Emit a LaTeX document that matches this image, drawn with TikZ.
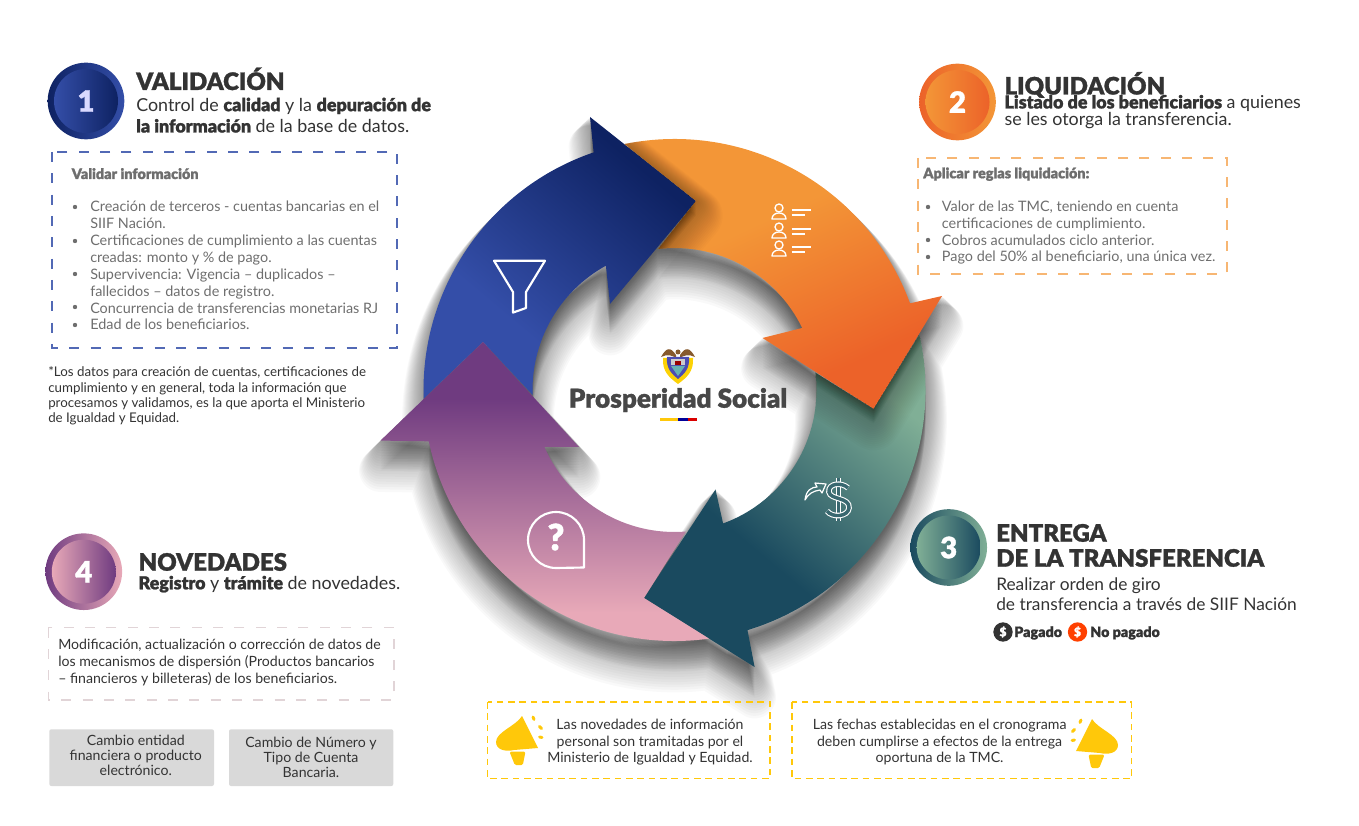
\documentclass[tikz,border=0pt]{standalone}
\usepackage{fontspec}
\setmainfont{Lato}[BoldFont={Lato Black},BoldFeatures={FakeBold=1.2}]

\definecolor{azulA}{HTML}{344EA8}
\definecolor{azulB}{HTML}{0E2262}
\definecolor{naranjaA}{HTML}{F39637}
\definecolor{naranjaB}{HTML}{EC6229}
\definecolor{verdeA}{HTML}{80AF96}
\definecolor{verdeB}{HTML}{1A4A5F}
\definecolor{rosaA}{HTML}{E8A9B8}
\definecolor{rosaB}{HTML}{6F3B80}
\definecolor{tinta}{HTML}{333333}
\definecolor{gris}{HTML}{6E6E6E}
\definecolor{amarillo}{HTML}{FFC80A}

\pgfdeclarehorizontalshading{azulfondo}{100bp}{color(0bp)=(azulA); color(36bp)=(azulA); color(72bp)=(azulB); color(100bp)=(azulB)}
\pgfdeclarehorizontalshading{naranjafondo}{100bp}{color(0bp)=(naranjaA); color(42bp)=(naranjaA); color(70bp)=(naranjaB); color(100bp)=(naranjaB)}
\pgfdeclarehorizontalshading{verdefondo}{100bp}{color(0bp)=(verdeA); color(28bp)=(verdeA); color(60bp)=(verdeB); color(100bp)=(verdeB)}
\pgfdeclarehorizontalshading{rosafondo}{100bp}{color(0bp)=(rosaB); color(34bp)=(rosaB); color(68bp)=(rosaA); color(100bp)=(rosaA)}

% Le quattro frecce, attorno al centro dell'anello
\def\pathazul{(182:251) arc[start angle=182,end angle=108.8,radius=251] -- (-84.5,273) -- (21.5,189) -- (-64.5,86) -- (118.9:142) arc[start angle=118.9,end angle=182,radius=142] -- (-191.5,48) -- cycle}
\def\pathnaranja{(101.5:251) arc[start angle=101.5,end angle=20.2,radius=251] -- (267.5,94) -- (199.1,-19) -- (88,52) -- (25.9:142) arc[start angle=25.9,end angle=96.6,radius=142] -- (21.5,189) -- cycle}
\def\pathverde{(12.7:251) arc[start angle=12.7,end angle=-73.1,radius=251] -- (80.1,-277) -- (-30.5,-208) -- (41,-99.5) -- (-70:142) arc[start angle=-70,end angle=7,radius=142] -- (199.1,-19) -- cycle}
\def\pathrosa{(-82.1:251) arc[start angle=-82.1,end angle=-168.2,radius=251] -- (-294,-50.6) -- (-191.5,48) -- (-95.5,-57) -- (-156.4:142) arc[start angle=-156.4,end angle=-85.4,radius=142] -- (-30.5,-208) -- cycle}

\tikzset{
    titulo/.style={anchor=base west, inner sep=0pt, align=left, text=tinta, font=\fontsize{18}{18.75}\selectfont\bfseries},
    cuerpo/.style={anchor=base west, inner sep=0pt, align=left, text=tinta, font=\fontsize{13.4}{#1}\selectfont},
    lista/.style={anchor=base west, inner sep=0pt, align=left, text=gris, font=\fontsize{10.8}{#1}\selectfont},
    encabezado/.style={anchor=base west, inner sep=0pt, text=gris, font=\fontsize{10.8}{12}\selectfont\bfseries},
    nota/.style n args={3}{anchor=base #2, inner sep=0pt, align=#3, text=tinta, font=\fontsize{10.6}{#1}\selectfont},
    caja/.style={line width=1.1pt, dash pattern=on 7.5pt off 8.5pt},
    cajita/.style={line width=1.1pt, dash pattern=on 5pt off 3.5pt, amarillo},
    vineta/.style={fill=gris},
    anillo/.style={circle, inner sep=0pt, minimum size=57.5pt},
    disco/.style={circle, inner sep=0pt, minimum size=48pt, text=white, font=\fontsize{22}{24}\selectfont\bfseries},
    moneda/.style={circle, inner sep=0pt, minimum size=14.5pt, text=white, font=\fontsize{9}{10}\selectfont\bfseries},
    icono/.style={white, line width=1.6pt, line join=round},
    megaphone/.pic={
        \fill[amarillo] (4,24) .. controls (-2,14) and (-22,8) .. (-22,-2) .. controls (-22,-10) and (-12,-12) .. (-4,-10) -- (20,-8) -- cycle;
        \fill[amarillo, rounded corners=1pt] (-8.5,-11.7) -- (7.5,-11.7) -- (4.8,-25) -- (-3.2,-25) -- cycle;
        \draw[amarillo, line width=2.2pt, line cap=round] (15,23) -- (16,20.5) (21.5,13.5) -- (23.5,11.5) (21.5,3) -- (24,2.5);
    },
}

\begin{document}
\begin{tikzpicture}[x=0.75pt,y=0.75pt]
    \useasboundingbox (0,0) rectangle (1359,825);

    % Ombra dell'anello
    \foreach \i in {1,...,20} {
        \begin{scope}[shift={(674.5,435-1.5*\i)}]
            \path[draw=black, fill=black, opacity=0.022, line width=1.6*\i pt, line join=round] \pathazul \pathnaranja \pathverde \pathrosa;
        \end{scope}
    }

    % Anello
    \begin{scope}[shift={(674.5,435)}]
        \shade[shading=azulfondo, shading angle=50] \pathazul;
        \shade[shading=naranjafondo, shading angle=-65] \pathnaranja;
        \shade[shading=verdefondo, shading angle=230] \pathverde;
        \shade[shading=rosafondo, shading angle=-90] \pathrosa;
        % Ombra delle punte
        \begin{scope}
            \clip \pathnaranja;
            \foreach \i in {1,...,20} {
                \draw[black, fill=black, yshift=-0.55*\i pt, opacity=0.016, line width=2*\i pt, line join=round] (-84.5,273) -- (21.5,189) -- (-64.5,86) -- cycle;
            }
        \end{scope}
        \begin{scope}
            \clip \pathverde;
            \foreach \i in {1,...,20} {
                \draw[black, fill=black, yshift=-0.55*\i pt, opacity=0.016, line width=2*\i pt, line join=round] (267.5,94) -- (199.1,-19) -- (88,52) -- cycle;
            }
        \end{scope}
    \end{scope}

    % Icone sulle frecce
    \draw[icono] (494,564.3) -- (545,564.3) -- (526,533) -- (526,517) -- (513,512.4) -- (513,533) -- cycle;
    \foreach \y in {617,598,580} {
        \draw[white, line width=1pt] (779,\y) circle[radius=4];
        \draw[white, line width=1pt, line join=round] (772,\y-11) .. controls (772,\y-3) and (786,\y-3) .. (786,\y-11) -- cycle;
        \draw[white, line width=1.1pt] (791.5,\y-2) -- (811,\y-2) (791.5,\y-7) -- (805,\y-7);
    }
    \draw[white, line width=.8pt, double=verdeB!70!verdeA, double distance=2.4pt] (838.6,347) -- (838.6,304);
    \draw[white, line width=.8pt, double=verdeB!70!verdeA, double distance=2.6pt] (848,337) .. controls (842,343) and (828,342) .. (829,333) .. controls (830,325) and (850,328) .. (849,317) .. controls (848,308) and (832,307) .. (827,314);
    \draw[white, line width=.9pt, line join=round] (805,325) .. controls (806,335) and (812,338) .. (817,338) -- (815,342) -- (826,341) -- (822,332) -- (820,335) .. controls (813,334) and (808,331) .. (805,325) -- cycle;
    \draw[icono] (584,285) arc[start angle=0,end angle=270,radius=28] -- (584,257.5) -- cycle;
    \node[inner sep=0pt, text=white, font=\fontsize{27}{28}\selectfont\bfseries] (pregunta) at (556,288) {?};

    % Stemma e scritta al centro
    \begin{scope}[shift={(678,461)}]
        \fill[brown!70!black] (-2,9) .. controls (-8,18) and (-12,16) .. (-17,7) .. controls (-11,10) and (-6,9) .. (-2,6) -- cycle;
        \fill[brown!70!black] (2,9) .. controls (8,18) and (12,16) .. (17,7) .. controls (11,10) and (6,9) .. (2,6) -- cycle;
        \fill[brown!70!black] (0,12) circle[radius=2.5];
        \fill[yellow!70!orange] (-15,6) .. controls (-16,-8) and (-8,-14) .. (0,-20) .. controls (8,-14) and (16,-8) .. (15,6) -- (-15,6) -- cycle;
        \fill[blue!40!gray] (-11,7) .. controls (-12,-5) and (-6,-10) .. (0,-15) .. controls (6,-10) and (12,-5) .. (11,7) -- cycle;
        \fill[gray!40] (-7,5) rectangle (7,-1);
        \fill[red!60!black] (-3,3) rectangle (3,-1);
        \fill[teal!60] (-7,-2) -- (7,-2) -- (0,-12) -- cycle;
    \end{scope}
    \node[inner sep=0pt, anchor=base, text=black!72, font=\fontsize{19.6}{20}\selectfont\bfseries] (marca) at (678,417.3) {Prosperidad Social};
    \fill[amarillo] (660,403.7) rectangle (678,407.3);
    \fill[blue!60!black] (678,403.7) rectangle (687.7,407.3);
    \fill[red!85!black] (687.7,403.7) rectangle (696.7,407.3);

    % Paso 1
    \node[anillo, left color=azulB, right color=azulA] (anillouno) at (86,724) {};
    \node[disco, left color=azulA, right color=azulB, text=blue!15] (uno) at (86,724) {1};
    \node[titulo] (tituno) at (136,735) {VALIDACIÓN};
    \node[cuerpo=16pt] (txtuno) at (136,692.5) {Control de \textbf{calidad} y la \textbf{depuración de}\\\textbf{la información} de la base de datos.};
    \draw[caja, azulA!85] (52,673) rectangle (397,477);
    \node[encabezado] (encuno) at (71.5,646) {Validar información};
    \node[lista=12.7pt] (listuno) at (90,495) {Creación de terceros - cuentas bancarias en el\\SIIF Nación.\\Certificaciones de cumplimiento a las cuentas\\creadas: monto y \% de pago.\\Supervivencia: Vigencia – duplicados –\\fallecidos – datos de registro.\\Concurrencia de transferencias monetarias RJ\\Edad de los beneficiarios.};
    \foreach \y in {618,584,551,518,500} {
        \fill[vineta] (75,\y) circle[radius=2.2];
    }
    \node[nota={11.6pt}{west}{left}, font=\fontsize{10}{11.6}\selectfont] (notauno) at (48,402) {*Los datos para creación de cuentas, certificaciones de\\cumplimiento y en general, toda la información que\\procesamos y validamos, es la que aporta el Ministerio\\de Igualdad y Equidad.};

    % Paso 2
    \node[anillo, left color=naranjaB, right color=naranjaA] (anillodos) at (957.5,723) {};
    \node[disco, left color=naranjaA, right color=naranjaB] (dos) at (957.5,723) {2};
    \node[titulo] (titdos) at (1004.3,730.5) {LIQUIDACIÓN};
    \node[cuerpo=11.5pt] (txtdos) at (1004.3,699) {\textbf{Listado de los beneficiarios} a quienes\\se les otorga la transferencia.};
    \draw[caja, naranjaA!70] (918,667) rectangle (1227,551);
    \node[encabezado] (encdos) at (923,646.7) {Aplicar reglas liquidación:};
    \node[lista=12.5pt] (listdos) at (941.7,563) {Valor de las TMC, teniendo en cuenta\\certificaciones de cumplimiento.\\Cobros acumulados ciclo anterior.\\Pago del 50\% al beneficiario, una única vez.};
    \foreach \y in {618,585,568} {
        \fill[vineta] (928,\y) circle[radius=2.2];
    }

    % Paso 3
    \node[anillo, left color=verdeB, right color=verdeA] (anillotres) at (948.7,277.5) {};
    \node[disco, left color=verdeA, right color=verdeB] (tres) at (948.7,277.5) {3};
    \node[titulo] (tittres) at (996,258.3) {ENTREGA\\DE LA TRANSFERENCIA};
    \node[cuerpo=15pt, font=\fontsize{13}{15}\selectfont] (txttres) at (996,215) {Realizar orden de giro\\de transferencia a través de SIIF Nación};
    \node[moneda, fill=tinta] (pagado) at (1003,193) {\$};
    \node[anchor=base west, inner sep=0pt, text=tinta, font=\fontsize{10.7}{12}\selectfont\bfseries] (txtpagado) at (1014,188) {Pagado};
    \node[moneda, fill=red!50!orange] (nopagado) at (1077.5,193) {\$};
    \node[anchor=base west, inner sep=0pt, text=tinta, font=\fontsize{10.7}{12}\selectfont\bfseries] (txtnopagado) at (1090,188) {No pagado};

    % Avvisi
    \draw[cajita] (487.5,123) rectangle (770,46.3);
    \draw[cajita] (792,123) rectangle (1131.5,46.3);
    \pic at (518,85) {megaphone};
    \pic[xscale=-1] at (1096,82) {megaphone};
    \node[nota={12.3pt}{}{center}] (avisouno) at (650,62.3) {Las novedades de información\\personal son tramitadas por el\\Ministerio de Igualdad y Equidad.};
    \node[nota={12.3pt}{}{center}] (avisodos) at (939.6,62.3) {Las fechas establecidas en el cronograma\\deben cumplirse a efectos de la entrega\\oportuna de la TMC.};

    % Paso 4
    \node[anillo, left color=rosaB, right color=rosaA] (anillocuatro) at (83.8,253.3) {};
    \node[disco, left color=rosaA, right color=rosaB] (cuatro) at (83.8,253.3) {4};
    \node[titulo] (titcuatro) at (138.3,254.3) {NOVEDADES};
    \node[cuerpo=16pt] (txtcuatro) at (138.3,235.7) {\textbf{Registro} y \textbf{trámite} de novedades.};
    \draw[caja, rosaA!50!gray!40] (48.3,197.3) rectangle (394,125);
    \node[nota={12.5pt}{west}{left}] (modif) at (58,141.7) {Modificación, actualización o corrección de datos de\\los mecanismos de dispersión (Productos bancarios\\– financieros y billeteras) de los beneficiarios.};
    \fill[black!15, rounded corners=1.5pt] (49.3,95.7) rectangle (214,39);
    \fill[black!15, rounded corners=1.5pt] (229,95.7) rectangle (393.3,39);
    \node[nota={11.25pt}{}{center}] (cambiouno) at (135.8,50) {Cambio entidad\\financiera o producto\\electrónico.};
    \node[nota={11.25pt}{}{center}] (cambiodos) at (311,48) {Cambio de Número y\\Tipo de Cuenta\\Bancaria.};
\end{tikzpicture}
\end{document}
